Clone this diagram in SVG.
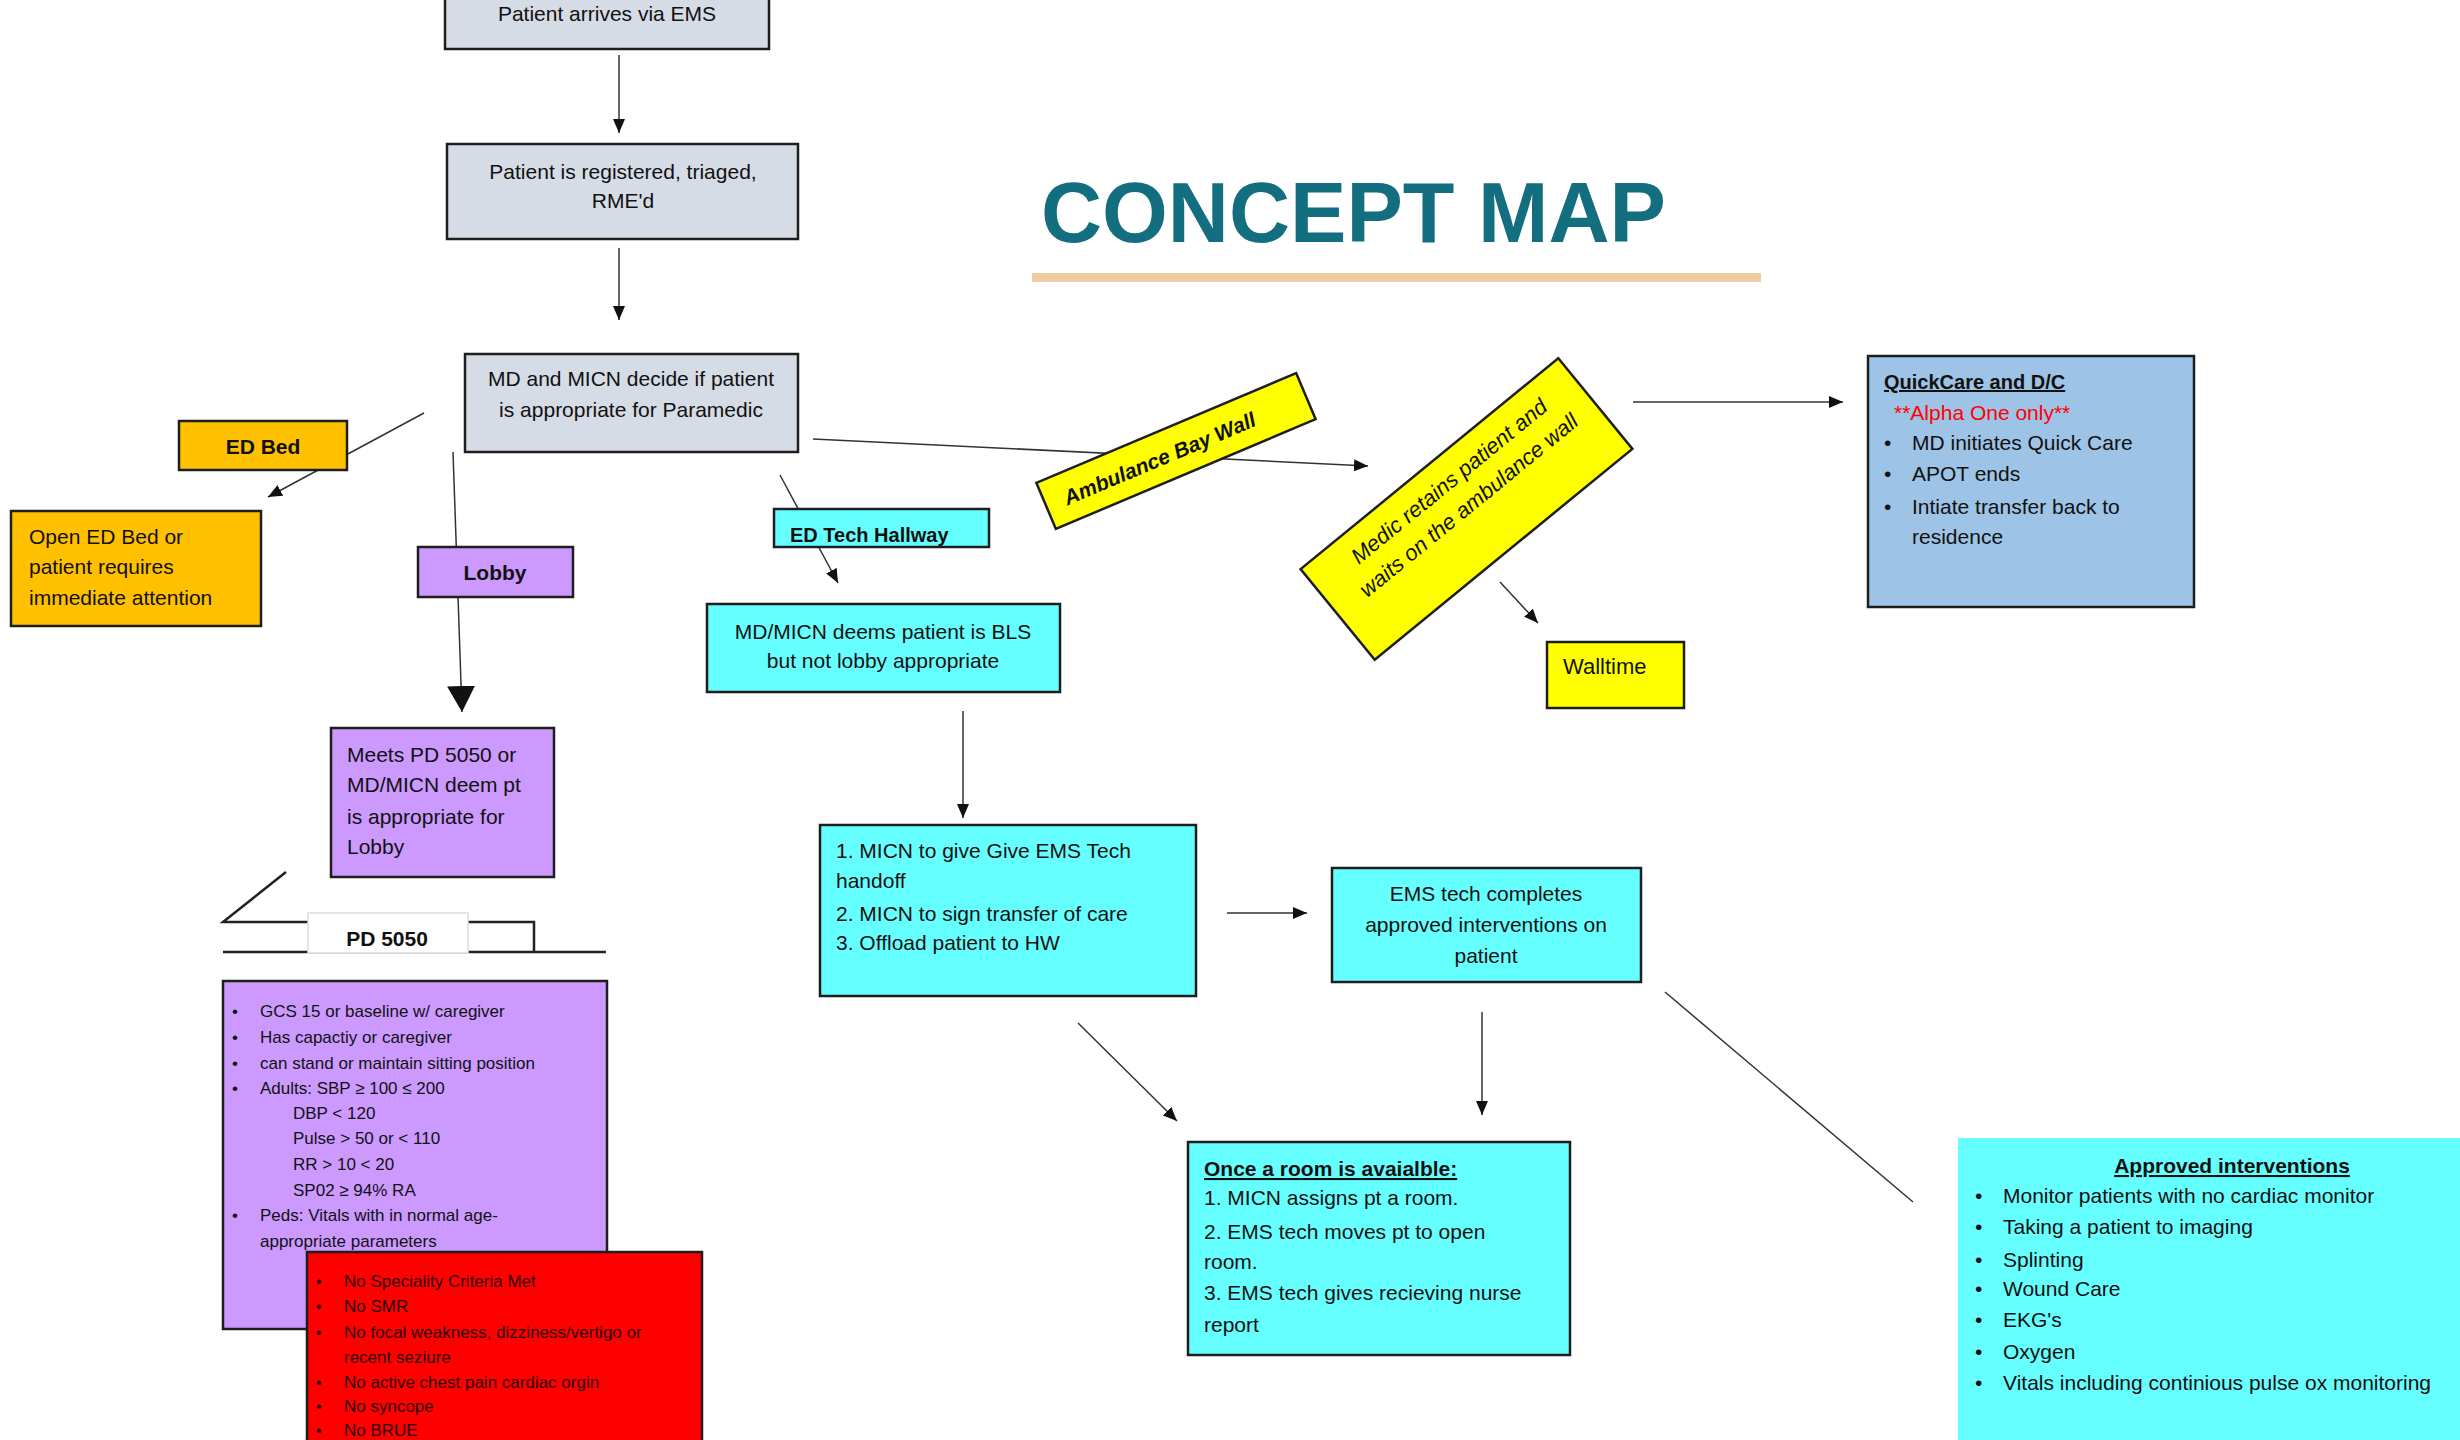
<svg xmlns="http://www.w3.org/2000/svg" width="2460" height="1440" viewBox="0 0 2460 1440">
<style>
text{font-family:"Liberation Sans",Arial,sans-serif;fill:#111;}
.t21{font-size:21px;}
.t17{font-size:17px;}
.b{font-weight:bold;}
.c{text-anchor:middle;}
.u{text-decoration:underline;}
.box{stroke:#1e1e1e;stroke-width:2.5;}
.grey{fill:#D6DCE5;}
.orange{fill:#FFC000;}
.purple{fill:#CC99FF;}
.cyan{fill:#66FFFF;}
.yellow{fill:#FFFF00;}
.red{fill:#FF0000;}
.blue{fill:#9DC3E6;}
.ln{stroke:#333;stroke-width:1.5;fill:none;}
.redtxt text{fill:#2a0000;}
</style>
<defs>
<marker id="ah" markerUnits="userSpaceOnUse" markerWidth="14" markerHeight="12" refX="14" refY="6" orient="auto"><path d="M0,0 L14,6 L0,12 z" fill="#111"/></marker>
<marker id="ahBig" markerUnits="userSpaceOnUse" markerWidth="26" markerHeight="28" refX="26" refY="14" orient="auto"><path d="M0,0 L26,14 L0,28 z" fill="#111"/></marker>
</defs>
<rect width="2460" height="1440" fill="#fff"/>

<g id="title">
<text x="1041" y="242" font-size="86" font-weight="bold" textLength="625" lengthAdjust="spacingAndGlyphs" style="fill:#136F80">CONCEPT MAP</text>
<rect x="1032" y="273" width="729" height="9" fill="#EFCDA0"/>
</g>

<g id="connectors">
<line class="ln" x1="619" y1="55" x2="619" y2="133" marker-end="url(#ah)"/>
<line class="ln" x1="619" y1="248" x2="619" y2="320" marker-end="url(#ah)"/>
<line class="ln" x1="424" y1="413" x2="268" y2="497" marker-end="url(#ah)"/>
<line class="ln" x1="453" y1="452" x2="462" y2="712" stroke-width="2" marker-end="url(#ahBig)"/>
<line class="ln" x1="780" y1="475" x2="838" y2="583" marker-end="url(#ah)"/>
<line class="ln" x1="813" y1="439" x2="1368" y2="466" marker-end="url(#ah)"/>
<line class="ln" x1="1500" y1="582" x2="1538" y2="623" marker-end="url(#ah)"/>
<line class="ln" x1="1633" y1="402" x2="1843" y2="402" marker-end="url(#ah)"/>
<line class="ln" x1="963" y1="711" x2="963" y2="818" marker-end="url(#ah)"/>
<line class="ln" x1="1227" y1="913" x2="1307" y2="913" marker-end="url(#ah)"/>
<line class="ln" x1="1078" y1="1023" x2="1177" y2="1121" marker-end="url(#ah)"/>
<line class="ln" x1="1482" y1="1012" x2="1482" y2="1115" marker-end="url(#ah)"/>
<line class="ln" x1="1665" y1="992" x2="1913" y2="1202" stroke-width="2"/>
</g>

<g id="n-arrive">
<rect class="box grey" x="445" y="-45" width="324" height="94"/>
<text class="t21 c" x="607" y="21">Patient arrives via EMS</text>
</g>

<g id="n-register">
<rect class="box grey" x="447" y="144" width="351" height="95"/>
<text class="t21 c" x="623" y="179">Patient is registered, triaged,</text>
<text class="t21 c" x="623" y="208">RME'd</text>
</g>

<g id="n-decide">
<rect class="box grey" x="465" y="354" width="333" height="98"/>
<text class="t21 c" x="631" y="386">MD and MICN decide if patient</text>
<text class="t21 c" x="631" y="417">is appropriate for Paramedic</text>
</g>

<g id="n-edbed">
<rect class="box orange" x="179" y="421" width="168" height="49"/>
<text class="t21 b c" x="263" y="454">ED Bed</text>
</g>

<g id="n-open">
<rect class="box orange" x="11" y="511" width="250" height="115"/>
<text class="t21" x="29" y="544">Open ED Bed or</text>
<text class="t21" x="29" y="574">patient requires</text>
<text class="t21" x="29" y="605">immediate attention</text>
</g>

<g id="n-lobby">
<rect class="box purple" x="418" y="547" width="155" height="50"/>
<text class="t21 b c" x="495" y="580">Lobby</text>
</g>

<g id="n-meets">
<rect class="box purple" x="331" y="728" width="223" height="149"/>
<text class="t21" x="347" y="762">Meets PD 5050 or</text>
<text class="t21" x="347" y="792">MD/MICN deem pt</text>
<text class="t21" x="347" y="824">is appropriate for</text>
<text class="t21" x="347" y="854">Lobby</text>
</g>

<g id="n-pd5050">
<path d="M286,872 L223,922 L534,922 L534,952 M223,952 L606,952" stroke="#222" stroke-width="2.5" fill="none"/>
<rect x="308" y="913" width="160" height="40" fill="#fff" stroke="#ddd" stroke-width="1.5"/>
<text class="t21 b c" x="387" y="946">PD 5050</text>
</g>

<g id="n-criteria">
<rect class="box purple" x="223" y="981" width="384" height="348"/>
<g class="t17">
<text x="232" y="1017">•</text><text x="260" y="1017">GCS 15 or baseline w/ caregiver</text>
<text x="232" y="1043">•</text><text x="260" y="1043">Has capactiy or caregiver</text>
<text x="232" y="1069">•</text><text x="260" y="1069">can stand or maintain sitting position</text>
<text x="232" y="1094">•</text><text x="260" y="1094">Adults: SBP ≥ 100 ≤ 200</text>
<text x="293" y="1119">DBP &lt; 120</text>
<text x="293" y="1144">Pulse &gt; 50 or &lt; 110</text>
<text x="293" y="1170">RR &gt; 10 &lt; 20</text>
<text x="293" y="1196">SP02 ≥ 94% RA</text>
<text x="232" y="1221">•</text><text x="260" y="1221">Peds: Vitals with in normal age-</text>
<text x="260" y="1247">appropriate parameters</text>
</g>
</g>

<g id="n-exclusions" class="redtxt">
<rect class="box red" x="307" y="1252" width="395" height="230"/>
<g class="t17">
<text x="316" y="1287">•</text><text x="344" y="1287">No Speciality Criteria Met</text>
<text x="316" y="1312">•</text><text x="344" y="1312">No SMR</text>
<text x="316" y="1338">•</text><text x="344" y="1338">No focal weakness, dizziness/vertigo or</text>
<text x="344" y="1363">recent seziure</text>
<text x="316" y="1388">•</text><text x="344" y="1388">No active chest pain cardiac orgin</text>
<text x="316" y="1412">•</text><text x="344" y="1412">No syncope</text>
<text x="316" y="1436">•</text><text x="344" y="1436">No BRUE</text>
</g>
</g>

<g id="n-edtech">
<rect class="box cyan" x="774" y="509" width="215" height="38"/>
<text class="b" font-size="20" x="790" y="542">ED Tech Hallway</text>
</g>

<g id="n-bls">
<rect class="box cyan" x="707" y="604" width="353" height="88"/>
<text class="t21 c" x="883" y="639">MD/MICN deems patient is BLS</text>
<text class="t21 c" x="883" y="668">but not lobby appropriate</text>
</g>

<g id="n-handoff">
<rect class="box cyan" x="820" y="825" width="376" height="171"/>
<text class="t21" x="836" y="858">1. MICN to give Give EMS Tech</text>
<text class="t21" x="836" y="888">handoff</text>
<text class="t21" x="836" y="921">2. MICN to sign transfer of care</text>
<text class="t21" x="836" y="950">3. Offload patient to HW</text>
</g>

<g id="n-emstech">
<rect class="box cyan" x="1332" y="868" width="309" height="114"/>
<text class="t21 c" x="1486" y="901">EMS tech completes</text>
<text class="t21 c" x="1486" y="932">approved interventions on</text>
<text class="t21 c" x="1486" y="963">patient</text>
</g>

<g id="n-room">
<rect class="box cyan" x="1188" y="1142" width="382" height="213"/>
<text class="t21 b u" x="1204" y="1176">Once a room is avaialble:</text>
<text class="t21" x="1204" y="1205">1. MICN assigns pt a room.</text>
<text class="t21" x="1204" y="1239">2. EMS tech moves pt to open</text>
<text class="t21" x="1204" y="1269">room.</text>
<text class="t21" x="1204" y="1300">3. EMS tech gives recieving nurse</text>
<text class="t21" x="1204" y="1332">report</text>
</g>

<g id="n-approved">
<rect class="cyan" x="1958" y="1138" width="520" height="320"/>
<text class="t21 b u c" x="2232" y="1173">Approved interventions</text>
<g class="t21">
<text x="1975" y="1203">•</text><text x="2003" y="1203">Monitor patients with no cardiac monitor</text>
<text x="1975" y="1234">•</text><text x="2003" y="1234">Taking a patient to imaging</text>
<text x="1975" y="1267">•</text><text x="2003" y="1267">Splinting</text>
<text x="1975" y="1296">•</text><text x="2003" y="1296">Wound Care</text>
<text x="1975" y="1327">•</text><text x="2003" y="1327">EKG's</text>
<text x="1975" y="1359">•</text><text x="2003" y="1359">Oxygen</text>
<text x="1975" y="1390">•</text><text x="2003" y="1390">Vitals including continious pulse ox monitoring</text>
</g>
</g>

<g id="n-baywall" transform="translate(1176,451) rotate(-22.9)">
<rect class="box yellow" x="-141" y="-25" width="282" height="50"/>
<text class="t21 c" x="-18" y="8" font-weight="bold" font-style="italic">Ambulance Bay Wall</text>
</g>

<g id="n-medic" transform="translate(1466.5,509) rotate(-39.3)">
<rect class="box yellow" x="-166.5" y="-58.5" width="333" height="117"/>
<text class="c" font-size="22" font-style="italic" x="4" y="-25">Medic retains patient and</text>
<text class="c" font-size="22" font-style="italic" x="4" y="6">waits on the ambulance wall</text>
</g>

<g id="n-walltime">
<rect class="box yellow" x="1547" y="642" width="137" height="66"/>
<text font-size="22" x="1563" y="674">Walltime</text>
</g>

<g id="n-quickcare">
<rect class="box blue" x="1868" y="356" width="326" height="251"/>
<text class="b u" font-size="20" x="1884" y="389">QuickCare and D/C</text>
<text class="t21" x="1894" y="420" style="fill:#FF0000">**Alpha One only**</text>
<text class="t21" x="1884" y="450">•</text><text class="t21" x="1912" y="450">MD initiates Quick Care</text>
<text class="t21" x="1884" y="481">•</text><text class="t21" x="1912" y="481">APOT ends</text>
<text class="t21" x="1884" y="514">•</text><text class="t21" x="1912" y="514">Intiate transfer back to</text>
<text class="t21" x="1912" y="544">residence</text>
</g>
</svg>
